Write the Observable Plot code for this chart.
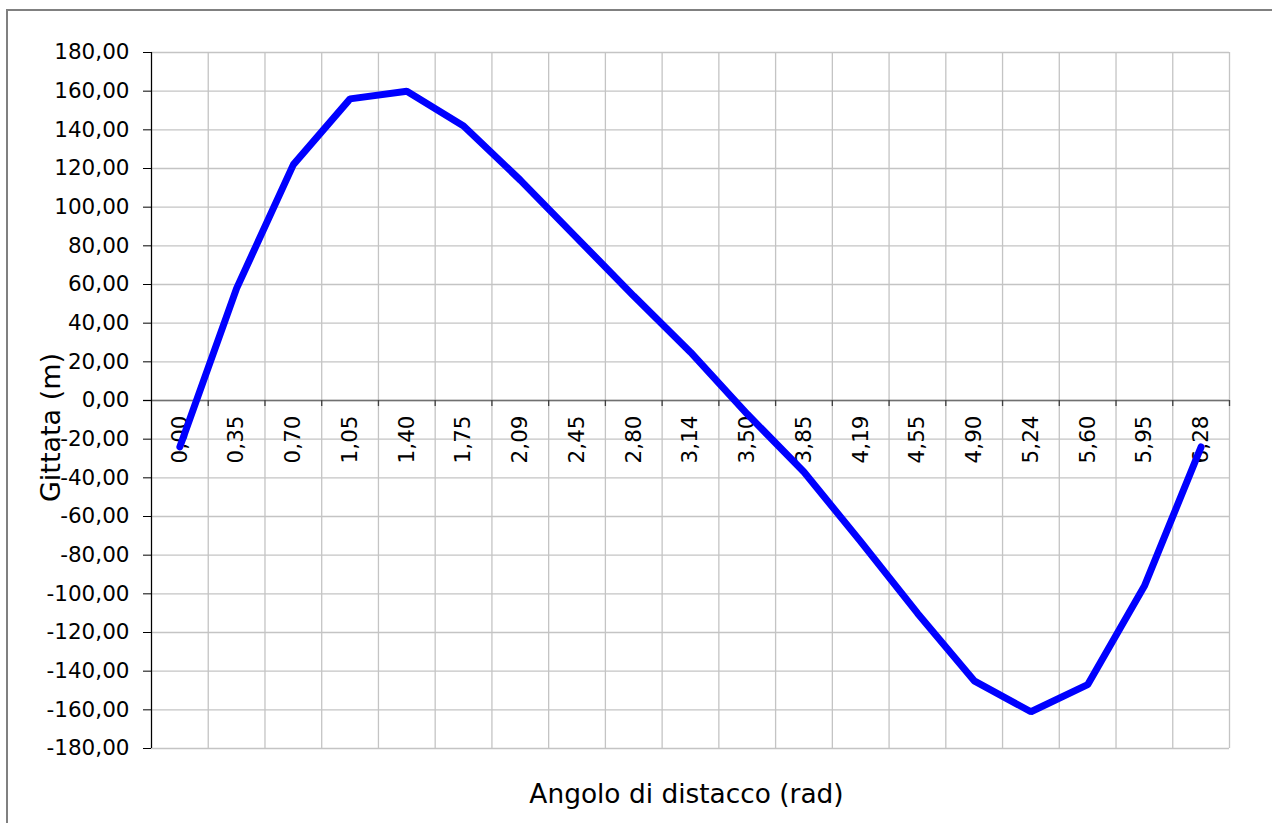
<!DOCTYPE html>
<html>
<head>
<meta charset="utf-8">
<script src="https://cdn.jsdelivr.net/npm/d3@7"></script>
<script src="https://cdn.jsdelivr.net/npm/@observablehq/plot@0.6"></script>
<style>
  html, body { margin: 0; padding: 0; background: white; }
  #wrap { position: relative; width: 1272px; height: 823px; overflow: hidden; }
  #frame { position: absolute; left: 6px; top: 9px; width: 1400px; height: 1000px;
           border: 2px solid #808080; box-sizing: border-box; z-index: 2; pointer-events: none; }
  #chart { position: absolute; left: 0; top: 0; z-index: 1; }
</style>
</head>
<body>
<div id="wrap"><div id="chart"></div><div id="frame"></div></div>
<script>
// Categories (angle in rad, as shown on the x axis)
const xLabels = ["0,00","0,35","0,70","1,05","1,40","1,75","2,09","2,45","2,80","3,14",
                 "3,50","3,85","4,19","4,55","4,90","5,24","5,60","5,95","6,28"];
// Gittata (m)
const gittata = [-24, 58, 122, 156, 160, 142, 114, 84, 54, 25,
                 -7, -37, -73, -110, -145, -161, -147, -96, -24];
// Y tick values
const yTicks = [-180,-160,-140,-120,-100,-80,-60,-40,-20,0,20,40,60,80,100,120,140,160,180];

const xTitle = "Angolo di distacco (rad)";
const yTitle = "Gittata (m)";

const n = xLabels.length;
const boundaries = d3.range(n + 1).map(i => i - 0.5);
const fmt = v => v.toFixed(2).replace(".", ",");

const chart = Plot.plot({
  width: 1272,
  height: 823,
  marginLeft: 151,
  marginRight: 43,
  marginTop: 52,
  marginBottom: 75,
  style: {fontFamily: "'DejaVu Sans', Verdana, sans-serif", fontSize: "21.5px", color: "black", background: "transparent"},
  x: {type: "linear", domain: [-0.5, n - 0.5], axis: null},
  y: {type: "linear", domain: [-180, 180], axis: null},
  marks: [
    Plot.ruleY(yTicks, {stroke: "#c4c4c4", strokeWidth: 1.3, strokeOpacity: 1}),
    Plot.ruleX(boundaries, {stroke: "#c4c4c4", strokeWidth: 1.3, strokeOpacity: 1}),
    Plot.ruleY([0], {stroke: "#707070", strokeWidth: 1.5, insetLeft: -8}),
    Plot.ruleX([-0.5], {stroke: "#000000", strokeWidth: 1.2}),
    Plot.axisY(yTicks, {tickSize: 8, tickPadding: 14, tickFormat: fmt, label: null, stroke: "#000", fontSize: 21.5}),
    Plot.ruleX(boundaries.slice(1), {y1: () => 0, y2: () => 0, insetBottom: -6, stroke: "#404040", strokeWidth: 1.3}),
    Plot.text(xLabels, {x: (d, i) => i, y: () => 0, text: d => d, rotate: -90, textAnchor: "end",
                        dy: 15, fontSize: 21.5, fill: "black"}),
    Plot.line(gittata, {x: (d, i) => i, y: d => d, stroke: "#0000ff", strokeWidth: 7,
                        strokeLinejoin: "miter", strokeLinecap: "round"}),
    Plot.text([yTitle], {frameAnchor: "left", text: d => d, rotate: -90, textAnchor: "middle",
                         lineAnchor: "middle", dx: -100, dy: 27, fontSize: 27, fill: "black"}),
    Plot.text([xTitle], {frameAnchor: "bottom", text: d => d, textAnchor: "middle",
                         lineAnchor: "middle", dx: -4, dy: 46, fontSize: 26.4, fill: "black"})
  ]
});
document.getElementById("chart").appendChild(chart);
</script>
</body>
</html>
